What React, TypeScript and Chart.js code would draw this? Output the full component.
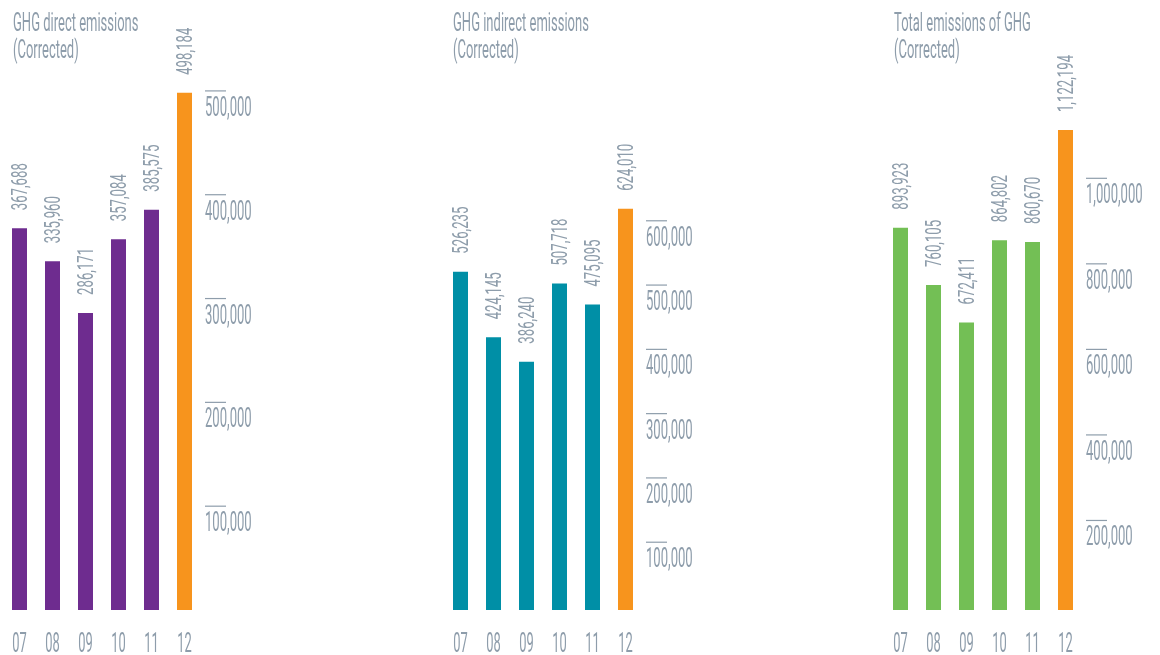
import React, { useEffect, useRef } from "react";
import { Chart, registerables } from "chart.js";

Chart.register(...registerables);

const CATEGORIES = ["07", "08", "09", "10", "11", "12"];

const DIRECT_VALUES = [367688, 335960, 286171, 357084, 385575, 498184];
const INDIRECT_VALUES = [526235, 424145, 386240, 507718, 475095, 624010];
const TOTAL_VALUES = [893923, 760105, 672411, 864802, 860670, 1122194];

const DIRECT_TICKS = [100000, 200000, 300000, 400000, 500000];
const INDIRECT_TICKS = [100000, 200000, 300000, 400000, 500000, 600000];
const TOTAL_TICKS = [200000, 400000, 600000, 800000, 1000000];

const DIRECT_TITLE = ["GHG direct emissions", "(Corrected)"];
const INDIRECT_TITLE = ["GHG indirect emissions", "(Corrected)"];
const TOTAL_TITLE = ["Total emissions of GHG", "(Corrected)"];

const TEXT = "#8e9dab";
const ORANGE = "#f7941d";
const FONT = "Roboto";

function drawText(
  ctx: CanvasRenderingContext2D,
  text: string,
  x: number,
  y: number,
  size: number,
  sx: number,
  align: CanvasTextAlign,
  rotate = false,
  weight = "normal"
) {
  ctx.save();
  ctx.translate(x, y);
  if (rotate) ctx.rotate(-Math.PI / 2);
  ctx.scale(sx, 1);
  ctx.font = `${weight} ${size}px ${FONT}`;
  ctx.fillStyle = TEXT;
  ctx.textAlign = align;
  ctx.textBaseline = "alphabetic";
  ctx.fillText(text, 0, rotate ? size * 0.355 : 0);
  ctx.restore();
}

const decorPlugin = {
  id: "decor",
  afterDatasetsDraw(chart: any, _args: any, opts: any) {
    const ctx: CanvasRenderingContext2D = chart.ctx;
    const xs = chart.scales.x;
    const ys = chart.scales.y;
    const area = chart.chartArea;
    const meta = chart.getDatasetMeta(0);
    const values: number[] = chart.data.datasets[0].data;

    // title
    (opts.title as string[]).forEach((line, i) => {
      drawText(ctx, line, opts.titleX, 31 + i * 27, 25, 0.52, "left");
    });

    // value labels
    meta.data.forEach((bar: any, i: number) => {
      drawText(
        ctx,
        values[i].toLocaleString("en-US"),
        bar.x,
        bar.y - 18,
        22,
        0.6,
        "left",
        true
      );
    });

    // category labels
    (chart.data.labels as string[]).forEach((lab, i) => {
      const px = xs.getPixelForValue(i);
      drawText(ctx, lab, px, area.bottom + 42, 28, 0.46, "center");
    });

    // y axis marks
    const lx = area.right + 4;
    (opts.ticks as number[]).forEach((t) => {
      const py = ys.getPixelForValue(t) + opts.shift;
      ctx.save();
      ctx.strokeStyle = TEXT;
      ctx.lineWidth = 1.2;
      ctx.beginPath();
      ctx.moveTo(lx, py);
      ctx.lineTo(lx + 21, py);
      ctx.stroke();
      ctx.restore();
      drawText(ctx, t.toLocaleString("en-US"), lx, py + 25, 27, 0.485, "left");
    });
  },
};

type PanelProps = {
  left: number;
  title: string[];
  values: number[];
  ticks: number[];
  max: number;
  top: number;
  color: string;
  shift: number;
  titleX: number;
};

function Panel({ left, title, values, ticks, max, top, color, shift, titleX }: PanelProps) {
  const ref = useRef<HTMLCanvasElement | null>(null);
  useEffect(() => {
    if (!ref.current) return;
    const colors = values.map((_, i) => (i === values.length - 1 ? ORANGE : color));
    const chart = new Chart(ref.current, {
      type: "bar",
      data: {
        labels: CATEGORIES,
        datasets: [
          {
            data: values,
            backgroundColor: colors,
            borderWidth: 0,
            barPercentage: 15 / 33,
            categoryPercentage: 1,
          },
        ],
      },
      options: {
        responsive: false,
        animation: false,
        layout: { padding: { left: 3, right: 279 - 201, top: top, bottom: 45 } },
        scales: {
          x: { display: false },
          y: { display: false, min: 0, max: max },
        },
        plugins: {
          legend: { display: false },
          tooltip: { enabled: false },
          decor: { title, ticks, shift, titleX },
        } as any,
      },
      plugins: [decorPlugin],
    });
    return () => chart.destroy();
  }, []);
  return (
    <canvas
      ref={ref}
      width={279}
      height={655}
      style={{ position: "absolute", left, top: 0, width: 279, height: 655 }}
    />
  );
}

export default function App() {
  return (
    <div style={{ position: "absolute", left: 0, top: 0, width: 1160, height: 655, background: "#fff" }}>
      <Panel left={0} title={DIRECT_TITLE} values={DIRECT_VALUES} ticks={DIRECT_TICKS} max={550000} top={39} color="#6e2c8f" shift={0} titleX={13} />
      <Panel left={441} title={INDIRECT_TITLE} values={INDIRECT_VALUES} ticks={INDIRECT_TICKS} max={700000} top={160} color="#008fa6" shift={-3.5} titleX={12} />
      <Panel left={881} title={TOTAL_TITLE} values={TOTAL_VALUES} ticks={TOTAL_TICKS} max={1300000} top={54} color="#73bf55" shift={-4} titleX={13} />
    </div>
  );
}
